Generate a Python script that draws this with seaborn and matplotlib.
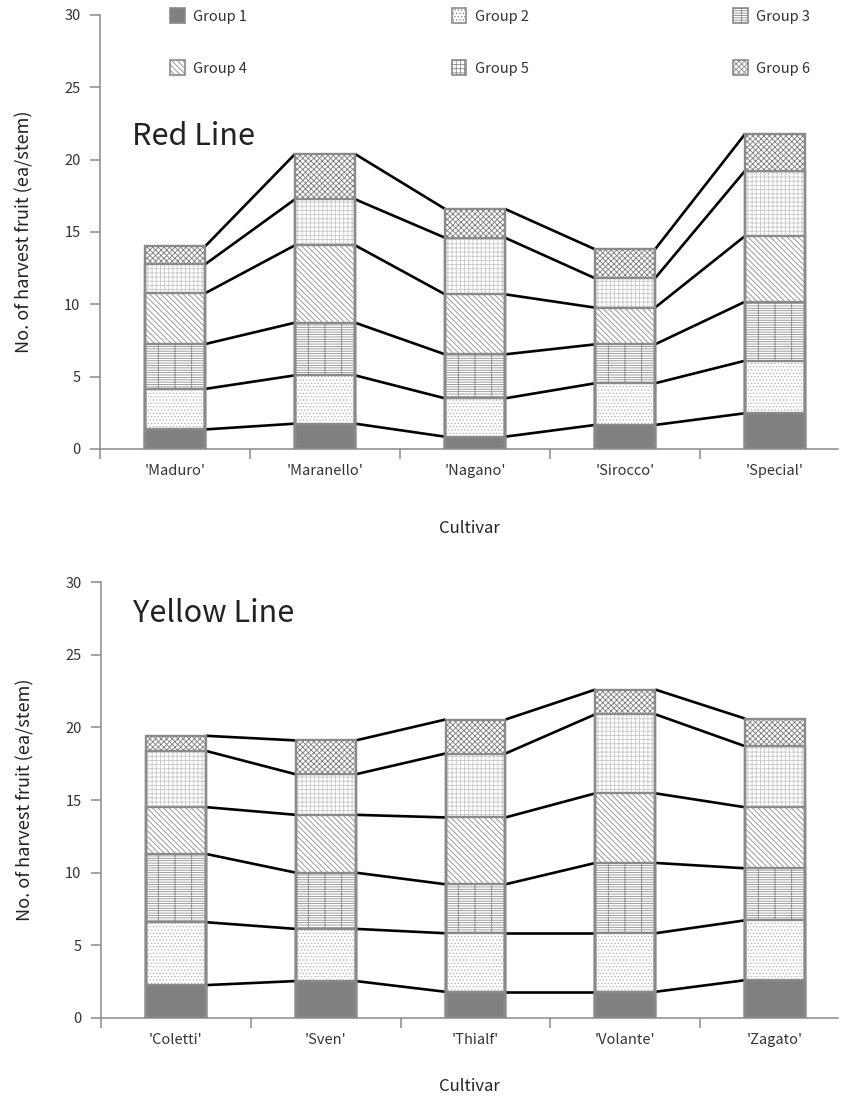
import numpy as np
import pandas as pd
import matplotlib
matplotlib.use("Agg")
import matplotlib.pyplot as plt
from matplotlib.patches import Patch
import seaborn as sns

# ---- data (cumulative stack tops, ea/stem) ----
groups = ["Group 1", "Group 2", "Group 3", "Group 4", "Group 5", "Group 6"]

red_cultivars = ["'Maduro'", "'Maranello'", "'Nagano'", "'Sirocco'", "'Special'"]
red_g1 = [1.35, 1.75, 0.85, 1.66, 2.47]
red_g2 = [4.15, 5.09, 3.50, 4.54, 6.10]
red_g3 = [7.25, 8.73, 6.54, 7.23, 10.18]
red_g4 = [10.76, 14.08, 10.69, 9.77, 14.72]
red_g5 = [12.76, 17.26, 14.60, 11.80, 19.23]
red_g6 = [14.00, 20.39, 16.59, 13.80, 21.77]

yellow_cultivars = ["'Coletti'", "'Sven'", "'Thialf'", "'Volante'", "'Zagato'"]
yellow_g1 = [2.26, 2.54, 1.80, 1.80, 2.60]
yellow_g2 = [6.59, 6.13, 5.83, 5.83, 6.72]
yellow_g3 = [11.29, 10.00, 9.20, 10.67, 10.30]
yellow_g4 = [14.51, 13.98, 13.80, 15.46, 14.50]
yellow_g5 = [18.38, 16.77, 18.20, 20.90, 18.70]
yellow_g6 = [19.42, 19.10, 20.54, 22.60, 20.60]

# ---- styles ----
EDGE = "#8a8a8a"
FILLS = ["#808080", "white", "white", "white", "white", "white"]
HATCHES = [None, ".....", "-------|", "\\\\\\\\\\\\", "++++", "xxxxxx"]
HATCH_COLORS = ["#808080", "#b8b8b8", "#909090", "#8c8c8c", "#c8c8c8", "#7a7a7a"]

sns.set_theme(style="white")
plt.rcParams["font.family"] = ["Noto Sans CJK KR", "DejaVu Sans"]
plt.rcParams["hatch.linewidth"] = 0.6


def draw_panel(ax, cultivars, layers, title, title_y, xpad):
    # stacked look: draw cumulative bars from the tallest down
    for k in range(len(layers) - 1, -1, -1):
        df = pd.DataFrame({"Cultivar": cultivars, "top": layers[k]})
        n0 = len(ax.patches)
        sns.barplot(data=df, x="Cultivar", y="top", order=cultivars, width=0.4,
                    color="white", saturation=1, errorbar=None, ax=ax)
        for p in ax.patches[n0:]:
            p.set_facecolor(FILLS[k])
            p.set_hatch(HATCHES[k])
            p.set_edgecolor(HATCH_COLORS[k])
            p.set_linewidth(0)
            p.set_zorder(2)
    # outlines of every segment
    for k in range(len(layers)):
        df = pd.DataFrame({"Cultivar": cultivars, "top": layers[k]})
        n0 = len(ax.patches)
        sns.barplot(data=df, x="Cultivar", y="top", order=cultivars, width=0.4,
                    color="white", saturation=1, errorbar=None, ax=ax)
        for p in ax.patches[n0:]:
            p.set_facecolor("none")
            p.set_edgecolor(EDGE)
            p.set_linewidth(1.7)
            p.set_zorder(3)

    # connector lines between neighbouring bars
    for tops in layers:
        for i in range(len(cultivars) - 1):
            ax.plot([i + 0.2, i + 0.8], [tops[i], tops[i + 1]], color="black", lw=1.9,
                    zorder=1, solid_capstyle="butt")

    ax.set_xlim(-0.5, 4.42)
    ax.set_ylim(0, 30)
    ax.set_yticks(np.arange(0, 31, 5))
    ax.set_xticks(np.arange(-0.5, 4.0, 1.0), minor=True)
    ax.tick_params(axis="x", which="major", length=0, pad=11, labelsize=10.5, labelcolor="#333333")
    ax.tick_params(axis="x", which="minor", length=7, width=1.1, color=EDGE, direction="out", bottom=True)
    ax.tick_params(axis="y", length=7, width=1.1, color=EDGE, direction="out", left=True,
                   pad=7, labelsize=10.5, labelcolor="#333333")
    sns.despine(ax=ax)
    for s in ["left", "bottom"]:
        ax.spines[s].set_color(EDGE)
        ax.spines[s].set_linewidth(1.1)
    ax.set_xlabel("Cultivar", fontsize=12, labelpad=xpad, color="#222222")
    ax.set_ylabel("No. of harvest fruit (ea/stem)", fontsize=13, labelpad=22, color="#222222")
    ax.text(-0.287, title_y, title, fontsize=22, color="#222222", va="baseline", ha="left")


fig = plt.figure(figsize=(8.42, 10.98), dpi=100)
ax1 = fig.add_axes([0.1188, 0.5911, 0.8765, 0.3953])
ax2 = fig.add_axes([0.1200, 0.0729, 0.8753, 0.3970])

draw_panel(ax1, red_cultivars, [red_g1, red_g2, red_g3, red_g4, red_g5, red_g6], "Red Line", 21.0, 30)
draw_panel(ax2, yellow_cultivars, [yellow_g1, yellow_g2, yellow_g3, yellow_g4, yellow_g5, yellow_g6],
           "Yellow Line", 27.25, 22)

handles = [Patch(facecolor=FILLS[k], hatch=HATCHES[k], edgecolor=EDGE, linewidth=1.2) for k in range(6)]
# legend fills column by column, so reorder to read row by row
order = [0, 3, 1, 4, 2, 5]
ax1.legend([handles[i] for i in order], [groups[i] for i in order], loc="upper left",
           bbox_to_anchor=(0.095, 1.015), ncol=3, frameon=False,
           fontsize=10.5, handlelength=1.0, handleheight=1.2, handletextpad=0.6,
           columnspacing=14.0, labelspacing=2.5, borderpad=0, borderaxespad=0,
           labelcolor="#333333")

fig.savefig("out.png", dpi=100)
